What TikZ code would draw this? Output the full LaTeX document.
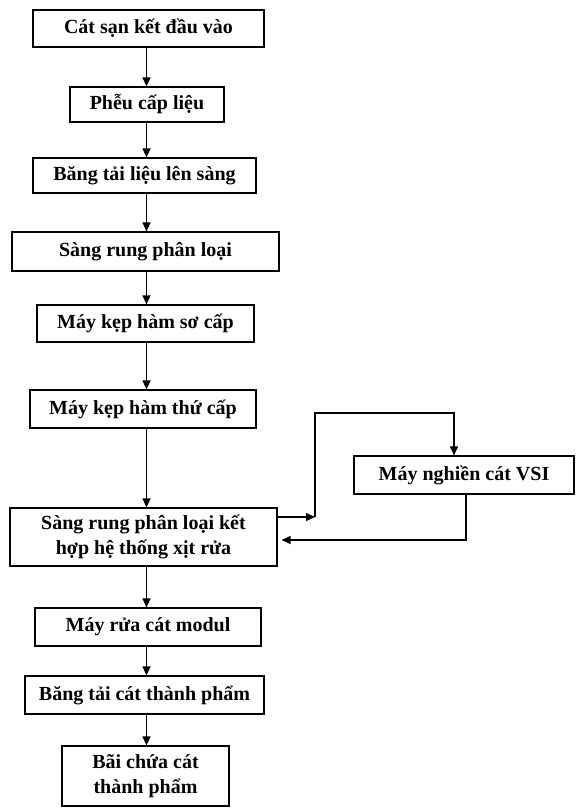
\documentclass[tikz,border=0pt]{standalone}
\usepackage{fontspec}
\setmainfont{Liberation Serif}
\usetikzlibrary{arrows.meta,calc}
\begin{document}
\begin{tikzpicture}[x=1pt,y=-1pt,
  box/.style={draw,line width=1.2pt,inner sep=0pt,align=center,
    font=\bfseries\fontsize{20}{25.5}\selectfont},
  arr/.style={line width=1.2pt,-{Triangle[length=9pt,width=8pt]}},
  ln/.style={line width=1.2pt}]
\useasboundingbox (0,0) rectangle (576,808);
\node[box,minimum width=231pt,minimum height=37pt] (b1) at (148.5,28.5) {Cát sạn kết đầu vào};
\node[box,minimum width=154pt,minimum height=35pt] (b2) at (147,104.5) {Phễu cấp liệu};
\node[box,minimum width=223pt,minimum height=35pt] (b3) at (144.5,175.5) {Băng tải liệu lên sàng};
\node[box,minimum width=267pt,minimum height=39pt] (b4) at (145.5,251.5) {Sàng rung phân loại};
\node[box,minimum width=217pt,minimum height=37pt] (b5) at (145.5,323.5) {Máy kẹp hàm sơ cấp};
\node[box,minimum width=226pt,minimum height=38pt] (b6) at (143,409) {Máy kẹp hàm thứ cấp};
\node[box,minimum width=220pt,minimum height=38pt] (b7) at (464,475) {Máy nghiền cát VSI};
\node[box,minimum width=267pt,minimum height=58pt] (b8) at (143.5,537) {Sàng rung phân loại kết\\hợp hệ thống xịt rửa};
\node[box,minimum width=226pt,minimum height=38pt] (b9) at (148,627) {Máy rửa cát modul};
\node[box,minimum width=239pt,minimum height=38pt] (b10) at (144.5,695) {Băng tải cát thành phẩm};
\node[box,minimum width=167pt,minimum height=60pt] (b11) at (145.5,776) {Bãi chứa cát\\thành phẩm};
\coordinate (ax) at (146.5,0);
\draw[arr] (b1.south -| ax) -- (b2.north -| ax);
\draw[arr] (b2.south -| ax) -- (b3.north -| ax);
\draw[arr] (b3.south -| ax) -- (b4.north -| ax);
\draw[arr] (b4.south -| ax) -- (b5.north -| ax);
\draw[arr] (b5.south -| ax) -- (b6.north -| ax);
\draw[arr] (b6.south -| ax) -- (b8.north -| ax);
\draw[arr] (b8.south -| ax) -- (b9.north -| ax);
\draw[arr] (b9.south -| ax) -- (b10.north -| ax);
\draw[arr] (b10.south -| ax) -- (b11.north -| ax);
\coordinate (loopA) at (315,517);
\coordinate (loopB) at (454,413);
\coordinate (rx) at (466,0);
\coordinate (ry) at (0,540);
\draw[arr] (b8.east |- loopA) -- (loopA);
\draw[arr] (loopA) |- (loopB) -- (b7.north -| loopB);
\draw[arr,shorten >=4pt] (b7.south -| rx) |- (b8.east |- ry);
\end{tikzpicture}
\end{document}
